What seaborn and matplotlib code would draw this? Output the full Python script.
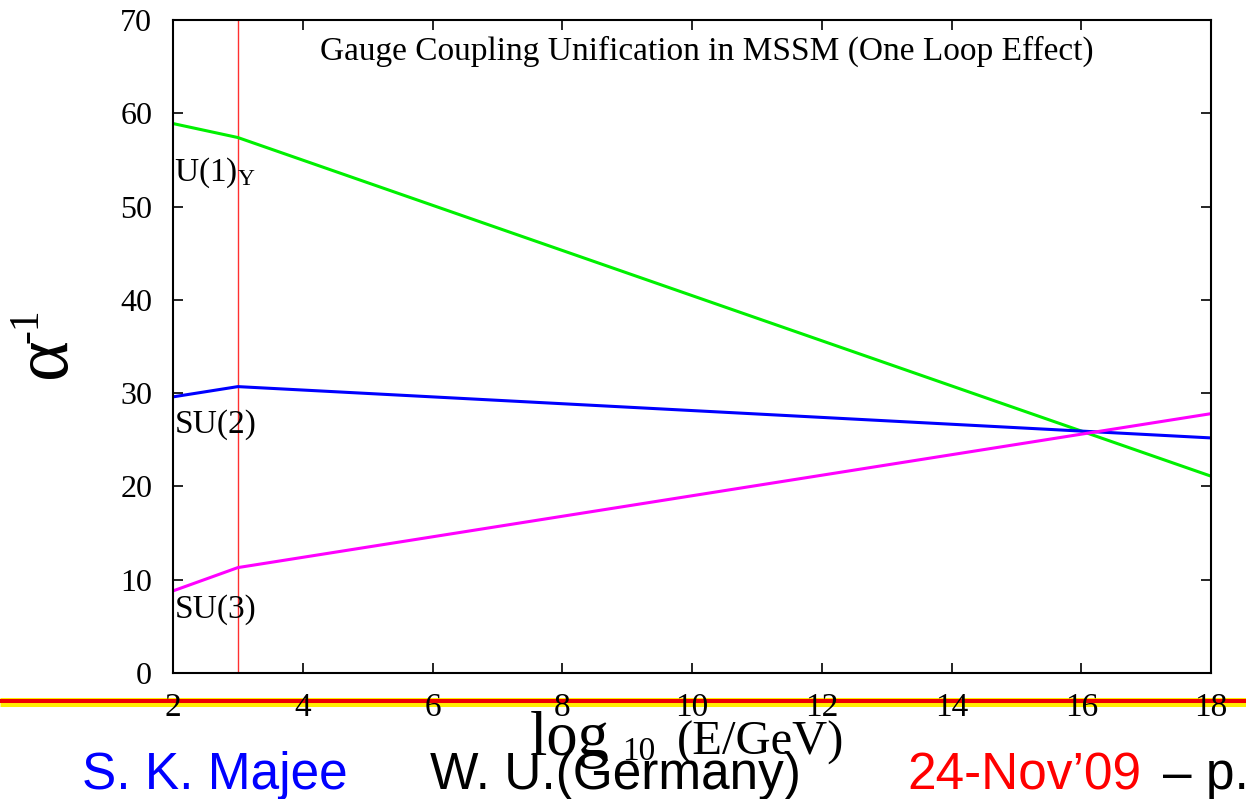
import matplotlib
matplotlib.use('Agg')
import matplotlib.pyplot as plt
import seaborn as sns
import pandas as pd
from matplotlib.lines import Line2D

# ---------------- data ----------------
energy_log10 = [2, 3, 18]
alpha_inv_u1 = [58.9, 57.4, 21.1]
alpha_inv_su2 = [29.6, 30.7, 25.2]
alpha_inv_su3 = [8.8, 11.3, 27.8]
series_names = ['U(1)_Y', 'SU(2)', 'SU(3)']
series_colors = ['#00f000', '#0000ff', '#ff00ff']
label_y = [52.8, 25.8, 5.9]
label_text = [r'U(1)$_{\mathrm{Y}}$', 'SU(2)', 'SU(3)']
threshold_x = 3
x_ticks = [2, 4, 6, 8, 10, 12, 14, 16, 18]
y_ticks = [0, 10, 20, 30, 40, 50, 60, 70]
title_text = 'Gauge Coupling Unification in MSSM (One Loop Effect)'
footer_texts = ['S. K. Majee', 'W. U.(Germany)', '24-Nov\u201909', '\u2013 p.']
footer_colors = ['#0000ff', 'black', '#ff0000', 'black']

# ---------------- style ----------------
sns.set_theme(style='ticks')
plt.rcParams['font.family'] = ['Liberation Serif', 'DejaVu Serif']
plt.rcParams['mathtext.fontset'] = 'custom'
plt.rcParams['mathtext.rm'] = 'Liberation Serif'
plt.rcParams['mathtext.it'] = 'Liberation Serif:italic'
plt.rcParams['mathtext.bf'] = 'Liberation Serif:bold'

W, H = 1246, 799
fig = plt.figure(figsize=(W / 100, H / 100), dpi=100)
fig.patch.set_facecolor('white')
ax = fig.add_axes([173 / W, 1 - 673 / H, (1211 - 173) / W, (673 - 20) / H])

df = pd.DataFrame({
    'x': energy_log10 * 3,
    'y': alpha_inv_u1 + alpha_inv_su2 + alpha_inv_su3,
    'group': [series_names[0]] * 3 + [series_names[1]] * 3 + [series_names[2]] * 3,
})
sns.lineplot(data=df, x='x', y='y', hue='group', palette=dict(zip(series_names, series_colors)),
             linewidth=2.2, legend=False, ax=ax, sort=False)

ax.axvline(threshold_x, color='#ff3030', linewidth=1.0, zorder=1)

ax.set_xlim(2, 18)
ax.set_ylim(0, 70)
ax.set_xticks(x_ticks)
ax.set_yticks(y_ticks)
ax.set_xlabel('')
ax.set_ylabel('')
for s in ax.spines.values():
    s.set_visible(True)
    s.set_linewidth(1.5)
    s.set_color('black')
ax.tick_params(axis='both', direction='in', length=7.5, width=1.2, top=True, right=True,
               colors='black')
ax.tick_params(axis='x', labelsize=24, pad=14)
ax.tick_params(axis='y', labelsize=23, pad=15)

for t, yy in zip(label_text, label_y):
    ax.text(2.02, yy, t, fontsize=24, ha='left', va='baseline', color='black')

fig.text(707 / W, 1 - 60 / H, title_text, fontsize=24, ha='center', va='baseline', color='black')

# y label: alpha with superscript -1
fig.text(46 / W, 1 - 358 / H, '\u03b1', fontsize=56, rotation=90,
         ha='center', va='center', color='black')
fig.text(27 / W, 1 - 326 / H, '-1', fontsize=30, rotation=90,
         ha='center', va='center', color='black')

# decorative band
fig.add_artist(Line2D([0, 1], [1 - 701.5 / H] * 2, transform=fig.transFigure, color='#ffee00',
                      linewidth=6.5, zorder=-1, solid_capstyle='butt'))
fig.add_artist(Line2D([0, 1], [1 - 701.3 / H] * 2, transform=fig.transFigure, color='#ee0000',
                      linewidth=2.9, zorder=-1, solid_capstyle='butt'))

# x label
fig.text(530 / W, 1 - 755 / H, 'log', fontsize=45, ha='left', va='baseline', color='black')
fig.text(622 / W, 1 - 760 / H, '10', fontsize=24, ha='left', va='baseline', color='black')
fig.text(677 / W, 1 - 755 / H, '(E/GeV)', fontsize=35, ha='left', va='baseline', color='black')

# footer
for txt, col, xp in zip(footer_texts, footer_colors, [82, 430, 907, 1163]):
    fig.text(xp / W, 1 - 789 / H, txt, fontsize=37, ha='left', va='baseline', color=col,
             family=['Liberation Sans', 'DejaVu Sans'])

fig.savefig('out.png', dpi=100)
